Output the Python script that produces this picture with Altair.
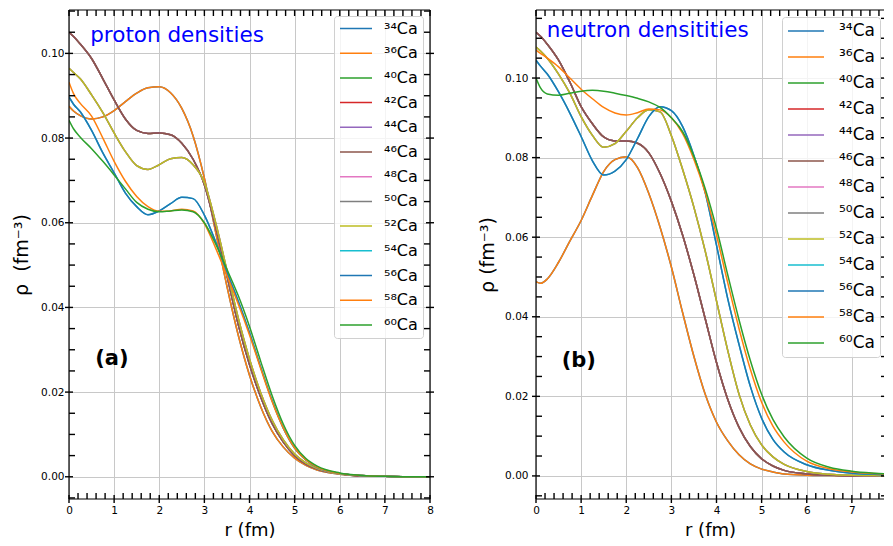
import altair as alt
import pandas as pd

# ---------------- data ----------------
r_grid = [0.0, 0.1, 0.25, 0.5, 0.75, 1.0, 1.25, 1.5, 1.75, 2.0, 2.25, 2.5, 2.75,
          3.0, 3.25, 3.5, 3.75, 4.0, 4.25, 4.5, 4.75, 5.0, 5.25, 5.5, 6.0, 6.5,
          7.0, 7.5, 8.0]

# proton densities (distinct curves)
p_A = [0.0875, 0.0864, 0.0853, 0.0845, 0.0850, 0.0865, 0.0886, 0.0906, 0.0919, 0.0921, 0.0907, 0.0870, 0.0805,
       0.0705, 0.0578, 0.0450, 0.0335, 0.0240, 0.0165, 0.0108, 0.0070, 0.0044, 0.0027, 0.0016, 0.0006, 0.0002,
       0.0001, 0.0000, 0.0000]
p_B = [0.1050, 0.1040, 0.1022, 0.0988, 0.0940, 0.0890, 0.0845, 0.0818, 0.0811, 0.0812, 0.0808, 0.0788, 0.0750,
       0.0690, 0.0590, 0.0475, 0.0360, 0.0265, 0.0188, 0.0126, 0.0082, 0.0050, 0.0030, 0.0018, 0.0007, 0.0002,
       0.0001, 0.0000, 0.0000]
p_C = [0.0965, 0.0955, 0.0940, 0.0902, 0.0860, 0.0812, 0.0768, 0.0735, 0.0726, 0.0737, 0.0751, 0.0754, 0.0737,
       0.0695, 0.0600, 0.0488, 0.0375, 0.0278, 0.0198, 0.0134, 0.0087, 0.0054, 0.0033, 0.0020, 0.0007, 0.0003,
       0.0001, 0.0000, 0.0000]
p_D = [0.0897, 0.0880, 0.0862, 0.0818, 0.0765, 0.0718, 0.0670, 0.0638, 0.0619, 0.0628, 0.0645, 0.0660, 0.0657,
       0.0618, 0.0555, 0.0483, 0.0415, 0.0340, 0.0258, 0.0180, 0.0115, 0.0068, 0.0040, 0.0022, 0.0008, 0.0003,
       0.0001, 0.0000, 0.0000]
p_E = [0.0932, 0.0905, 0.0882, 0.0852, 0.0800, 0.0745, 0.0698, 0.0662, 0.0638, 0.0627, 0.0628, 0.0632, 0.0628,
       0.0598, 0.0540, 0.0475, 0.0408, 0.0335, 0.0255, 0.0178, 0.0115, 0.0068, 0.0040, 0.0023, 0.0008, 0.0003,
       0.0001, 0.0000, 0.0000]
p_F = [0.0842, 0.0822, 0.0802, 0.0775, 0.0745, 0.0713, 0.0680, 0.0648, 0.0632, 0.0626, 0.0628, 0.0630, 0.0626,
       0.0600, 0.0550, 0.0490, 0.0428, 0.0355, 0.0272, 0.0192, 0.0124, 0.0074, 0.0043, 0.0025, 0.0009, 0.0003,
       0.0001, 0.0000, 0.0000]

# neutron densities (distinct curves)
n_A = [0.0488, 0.0484, 0.0495, 0.0537, 0.0590, 0.0642, 0.0705, 0.0765, 0.0795, 0.0802, 0.0775, 0.0710, 0.0625,
       0.0525, 0.0410, 0.0300, 0.0205, 0.0135, 0.0088, 0.0053, 0.0030, 0.0017, 0.0010, 0.0005, 0.0002, 0.0001,
       0.0000, 0.0000, 0.0000]
n_B = [0.1115, 0.1105, 0.1085, 0.1045, 0.0990, 0.0928, 0.0885, 0.0852, 0.0842, 0.0842, 0.0836, 0.0812, 0.0760,
       0.0690, 0.0605, 0.0505, 0.0395, 0.0285, 0.0192, 0.0122, 0.0074, 0.0043, 0.0025, 0.0014, 0.0005, 0.0002,
       0.0000, 0.0000, 0.0000]
n_C = [0.1078, 0.1068, 0.1050, 0.1010, 0.0962, 0.0903, 0.0856, 0.0826, 0.0835, 0.0866, 0.0900, 0.0920, 0.0915,
       0.0855, 0.0770, 0.0675, 0.0565, 0.0440, 0.0315, 0.0205, 0.0128, 0.0078, 0.0048, 0.0029, 0.0011, 0.0004,
       0.00015, 0.0001, 0.0000]
n_D = [0.1045, 0.1030, 0.1010, 0.0965, 0.0912, 0.0853, 0.0792, 0.0756, 0.0766, 0.0795, 0.0848, 0.0903, 0.0928,
       0.0918, 0.0878, 0.0805, 0.0712, 0.0580, 0.0445, 0.0330, 0.0225, 0.0145, 0.0092, 0.0060, 0.0028, 0.0014,
       0.0007, 0.0004, 0.0002]
n_E = [0.1070, 0.1062, 0.1050, 0.1028, 0.1000, 0.0972, 0.0948, 0.0926, 0.0912, 0.0907, 0.0913, 0.0922, 0.0920,
       0.0900, 0.0860, 0.0795, 0.0712, 0.0605, 0.0485, 0.0370, 0.0268, 0.0185, 0.0125, 0.0085, 0.0037, 0.0018,
       0.0010, 0.0006, 0.0003]
n_F = [0.1000, 0.0975, 0.0960, 0.0957, 0.0962, 0.0967, 0.0969, 0.0967, 0.0962, 0.0956, 0.0949, 0.0940, 0.0926,
       0.0900, 0.0865, 0.0803, 0.0722, 0.0622, 0.0505, 0.0392, 0.0290, 0.0205, 0.0142, 0.0098, 0.0045, 0.0022,
       0.0012, 0.0007, 0.0004]

isotopes = ["\u00b3\u2074Ca", "\u00b3\u2076Ca", "\u2074\u2070Ca", "\u2074\u00b2Ca", "\u2074\u2074Ca",
            "\u2074\u2076Ca", "\u2074\u2078Ca", "\u2075\u2070Ca", "\u2075\u00b2Ca", "\u2075\u2074Ca",
            "\u2075\u2076Ca", "\u2075\u2078Ca", "\u2076\u2070Ca"]
colors = ["#1f77b4", "#ff7f0e", "#2ca02c", "#d62728", "#9467bd", "#8c564b", "#e377c2",
          "#7f7f7f", "#bcbd22", "#17becf", "#1f77b4", "#ff7f0e", "#2ca02c"]
groups = ["A", "A", "B", "B", "B", "B", "C", "C", "C", "D", "D", "E", "F"]

proton = {"A": p_A, "B": p_B, "C": p_C, "D": p_D, "E": p_E, "F": p_F}
neutron = {"A": n_A, "B": n_B, "C": n_C, "D": n_D, "E": n_E, "F": n_F}

x_major_all = [0, 1, 2, 3, 4, 5, 6, 7, 8]
x_minor_all = [round(i * 0.2, 1) for i in range(41) if i % 5 != 0]
y_major = [0.0, 0.02, 0.04, 0.06, 0.08, 0.10]
y_minor_all = [round(-0.005 + i * 0.005, 3) for i in range(25) if (i - 1) % 4 != 0]

GRID = "#c8c8c8"
FONT = "DejaVu Sans"


def long_df(curves):
    rows = []
    for iso, g in zip(isotopes, groups):
        for rv, v in zip(r_grid, curves[g]):
            rows.append({"iso": iso, "r": rv, "rho": v})
    return pd.DataFrame(rows)


def panel(curves, xdom, ydom, width, ytitle, ylabpad, ytitlepad, title_txt, title_pos,
          tag, tag_pos, leg, right_frame):
    xs = alt.Scale(domain=xdom, nice=False, zero=False)
    ys = alt.Scale(domain=ydom, nice=False, zero=False)
    x_major = [v for v in x_major_all if xdom[0] <= v <= xdom[1]]
    x_minor = [v for v in x_minor_all if xdom[0] <= v <= xdom[1]]
    y_minor = [v for v in y_minor_all if ydom[0] <= v <= ydom[1]]
    xaxis = alt.Axis(values=x_major, format="d", title="r (fm)", grid=True, gridColor=GRID,
                     gridWidth=1, ticks=False, domain=False, labelPadding=6, labelFontSize=10.5,
                     labelFont=FONT, labelFlush=False, labelOverlap=False, labelColor="black",
                     titleFont=FONT, titleFontSize=18, titleFontWeight="normal",
                     titlePadding=6, titleColor="black")
    yaxis = alt.Axis(values=y_major, format=".2f", title=ytitle, grid=True, gridColor=GRID,
                     gridWidth=1, ticks=False, domain=False, labelPadding=ylabpad,
                     labelFontSize=10.5, labelFont=FONT, labelFlush=False, labelOverlap=False,
                     labelColor="black", titleFont=FONT, titleFontSize=19,
                     titleFontWeight="normal", titlePadding=ytitlepad, titleColor="black")
    color = alt.Color("iso:N", scale=alt.Scale(domain=isotopes, range=colors),
                      legend=alt.Legend(**leg))
    df = long_df(curves)
    base = alt.Chart(df)
    layers = []
    for iso in isotopes:
        layers.append(
            base.transform_filter(alt.datum.iso == iso)
            .mark_line(strokeWidth=1.5, interpolate="monotone", clip=True)
            .encode(x=alt.X("r:Q", scale=xs, axis=xaxis),
                    y=alt.Y("rho:Q", scale=ys, axis=yaxis),
                    color=color)
        )

    tx_min = alt.Chart(pd.DataFrame({"t": x_minor}))
    tx_maj = alt.Chart(pd.DataFrame({"t": x_major}))
    ty_min = alt.Chart(pd.DataFrame({"t": y_minor}))
    ty_maj = alt.Chart(pd.DataFrame({"t": y_major}))
    X = alt.X("t:Q", scale=xs, axis=xaxis)
    Y = alt.Y("t:Q", scale=ys, axis=yaxis)

    def yd(v):
        return alt.YDatum(v, type="quantitative", scale=ys, axis=yaxis)

    def xd(v):
        return alt.XDatum(v, type="quantitative", scale=xs, axis=xaxis)

    tk = dict(color="black", strokeWidth=1.4)
    fr = dict(color="black", strokeWidth=1.2)
    one = pd.DataFrame({"a": [0]})
    ticks = [
        tx_min.mark_rule(y2Offset=-6, **tk).encode(x=X, y=yd(ydom[0]), y2=alt.Y2Datum(ydom[0])),
        tx_maj.mark_rule(yOffset=4, y2Offset=-4, **tk).encode(x=X, y=yd(ydom[0]), y2=alt.Y2Datum(ydom[0])),
        tx_min.mark_rule(y2Offset=6, **tk).encode(x=X, y=yd(ydom[1]), y2=alt.Y2Datum(ydom[1])),
        tx_maj.mark_rule(y2Offset=6, **tk).encode(x=X, y=yd(ydom[1]), y2=alt.Y2Datum(ydom[1])),
        ty_min.mark_rule(x2Offset=6, **tk).encode(y=Y, x=xd(xdom[0]), x2=alt.X2Datum(xdom[0])),
        ty_maj.mark_rule(xOffset=-4, x2Offset=4, **tk).encode(y=Y, x=xd(xdom[0]), x2=alt.X2Datum(xdom[0])),
        # frame: bottom, top, left
        alt.Chart(one).mark_rule(**fr).encode(x=xd(xdom[0]), x2=alt.X2Datum(xdom[1]), y=yd(ydom[0])),
        alt.Chart(one).mark_rule(**fr).encode(x=xd(xdom[0]), x2=alt.X2Datum(xdom[1]), y=yd(ydom[1])),
        alt.Chart(one).mark_rule(**fr).encode(y=yd(ydom[0]), y2=alt.Y2Datum(ydom[1]), x=xd(xdom[0])),
    ]
    if right_frame:
        ticks += [
            ty_min.mark_rule(x2Offset=-6, **tk).encode(y=Y, x=xd(xdom[1]), x2=alt.X2Datum(xdom[1])),
            ty_maj.mark_rule(xOffset=4, x2Offset=-4, **tk).encode(y=Y, x=xd(xdom[1]), x2=alt.X2Datum(xdom[1])),
            alt.Chart(one).mark_rule(**fr).encode(y=yd(ydom[0]), y2=alt.Y2Datum(ydom[1]), x=xd(xdom[1])),
        ]
    else:
        ticks += [
            ty_min.mark_rule(x2Offset=-3, **tk).encode(y=Y, x=xd(xdom[1]), x2=alt.X2Datum(xdom[1])),
            ty_maj.mark_rule(x2Offset=-3, **tk).encode(y=Y, x=xd(xdom[1]), x2=alt.X2Datum(xdom[1])),
        ]

    XT = alt.X("x:Q", scale=xs, axis=xaxis)
    YT = alt.Y("y:Q", scale=ys, axis=yaxis)
    title = alt.Chart(pd.DataFrame({"x": [title_pos[0]], "y": [title_pos[1]], "t": [title_txt]})).mark_text(
        align="left", baseline="alphabetic", fontSize=21.5, font=FONT, color="#0000ff"
    ).encode(x=XT, y=YT, text="t:N")
    tagc = alt.Chart(pd.DataFrame({"x": [tag_pos[0]], "y": [tag_pos[1]], "t": [tag]})).mark_text(
        align="left", baseline="middle", fontSize=21, font=FONT, fontWeight="bold", color="black"
    ).encode(x=XT, y=YT, text="t:N")

    return alt.layer(*layers, *ticks, title, tagc).properties(width=width, height=489)


leg_common = dict(title=None, orient="none", direction="vertical", symbolType="stroke",
                  symbolStrokeWidth=1.5, labelFont=FONT, labelColor="black",
                  strokeColor="#d0d0d0", fillColor="rgba(255,255,255,0.8)", cornerRadius=3,
                  labelLimit=200)

left = panel(proton, [0, 8], [-0.00525, 0.11025], 361, "\u03c1\u00a0 (fm\u207b\u00b3)", 5, 9,
             "proton densities", (0.47, 0.1027), "(a)", (0.58, 0.0277),
             dict(leg_common, legendX=265, legendY=6, symbolSize=1024, clipHeight=15,
                  rowPadding=7.7, labelFontSize=16, labelOffset=11, padding=5), True)
right = panel(neutron, [0, 7.712], [-0.0058, 0.1171], 348, "\u03c1 (fm\u207b\u00b3)", 8, 7,
              "neutron densitities", (0.24, 0.1104), "(b)", (0.57, 0.0288),
              dict(leg_common, legendX=246, legendY=7, symbolSize=1296, clipHeight=18,
                   rowPadding=8, labelFontSize=17, labelOffset=14, padding=5), False)

chart = alt.hconcat(left, right, spacing=43).resolve_scale(color="independent").properties(
    padding={"left": 4, "top": 1, "right": 0, "bottom": 0}
).configure_view(strokeWidth=0)

chart.save("out.html", embed_options={"renderer": "svg", "actions": False})
